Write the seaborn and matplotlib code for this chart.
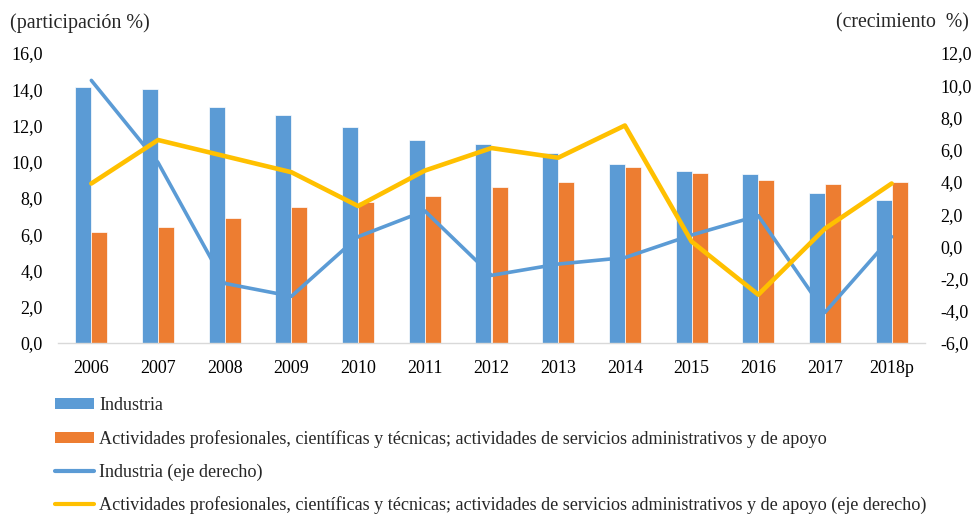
import matplotlib
matplotlib.use("Agg")
import matplotlib.pyplot as plt
import seaborn as sns
import numpy as np
import pandas as pd
from matplotlib.patches import Patch
from matplotlib.lines import Line2D
from matplotlib.ticker import FuncFormatter, MultipleLocator

years = ["2006", "2007", "2008", "2009", "2010", "2011", "2012",
         "2013", "2014", "2015", "2016", "2017", "2018p"]
industria_part = [14.1, 14.0, 13.0, 12.6, 11.9, 11.2, 11.0, 10.5, 9.9, 9.5, 9.3, 8.3, 7.9]
actividades_part = [6.1, 6.4, 6.9, 7.5, 7.8, 8.1, 8.6, 8.9, 9.7, 9.4, 9.0, 8.8, 8.9]
industria_crec = [10.3, 5.2, -2.3, -3.1, 0.6, 2.2, -1.8, -1.1, -0.7, 0.7, 1.9, -4.1, 0.6]
actividades_crec = [3.9, 6.6, 5.6, 4.6, 2.5, 4.7, 6.1, 5.5, 7.5, 0.3, -3.0, 1.1, 3.9]

lab_ind = "Industria"
lab_act = ("Actividades profesionales, científicas y técnicas; actividades de "
           "servicios administrativos y de apoyo")
lab_ind_r = "Industria (eje derecho)"
lab_act_r = lab_act + " (eje derecho)"

c_blue = "#5B9BD5"
c_orange = "#ED7D31"
c_yellow = "#FFC000"

sns.set_theme(style="white")
plt.rcParams["font.family"] = ["Liberation Serif", "DejaVu Serif"]

bars = pd.DataFrame({
    "year": years * 2,
    "value": industria_part + actividades_part,
    "serie": [lab_ind] * len(years) + [lab_act] * len(years),
})
pos = np.arange(len(years))
lines = pd.DataFrame({
    "pos": np.concatenate([pos, pos]),
    "value": industria_crec + actividades_crec,
    "serie": [lab_ind_r] * len(years) + [lab_act_r] * len(years),
})

fig = plt.figure(figsize=(9.76, 5.15), dpi=100)
ax = fig.add_axes([58 / 976, 1 - 343 / 515, (925 - 58) / 976, (343 - 53) / 515])

sns.barplot(data=bars, x="year", y="value", hue="serie", order=years,
            palette={lab_ind: c_blue, lab_act: c_orange}, width=0.48, gap=0,
            dodge=True, ax=ax, legend=False, edgecolor="white", linewidth=0.5,
            saturation=1)
ax.set_xlim(-0.5, len(years) - 0.5)
ax.set_ylim(0, 16)
ax.yaxis.set_major_locator(MultipleLocator(2))
fmt = FuncFormatter(lambda v, p: f"{v:.1f}".replace(".", ","))
ax.yaxis.set_major_formatter(fmt)
ax.set_xlabel("")
ax.set_ylabel("")
for s in ["top", "right", "left"]:
    ax.spines[s].set_visible(False)
ax.spines["bottom"].set_color("#D9D9D9")
ax.spines["bottom"].set_linewidth(1)
ax.tick_params(axis="both", length=0, labelsize=13, colors="black")
ax.tick_params(axis="y", pad=11)
ax.tick_params(axis="x", pad=12)

ax2 = ax.twinx()
sns.lineplot(data=lines, x="pos", y="value", hue="serie",
             palette={lab_ind_r: c_blue, lab_act_r: c_yellow},
             ax=ax2, legend=False, linewidth=3)
for ln, lw in zip(ax2.get_lines(), [2.6, 3.3]):
    ln.set_linewidth(lw)
ax2.set_ylim(-6, 12)
ax2.yaxis.set_major_locator(MultipleLocator(2))
ax2.yaxis.set_major_formatter(fmt)
ax2.set_xlim(-0.5, len(years) - 0.5)
ax2.set_xlabel("")
ax2.set_ylabel("")
for s in ["top", "right", "left", "bottom"]:
    ax2.spines[s].set_visible(False)
ax2.tick_params(axis="y", length=0, labelsize=13, colors="black", pad=11)
ax2.grid(False)
ax.grid(False)

fig.text(10 / 976, 1 - 23 / 515, "(participación %)", fontsize=14.5,
         ha="left", va="center")
fig.text(969 / 976, 1 - 23 / 515, "(crecimiento  %)", fontsize=14.2,
         ha="right", va="center")

handles = [
    Patch(facecolor=c_blue, edgecolor="none"),
    Patch(facecolor=c_orange, edgecolor="none"),
    Line2D([0], [0], color=c_blue, linewidth=3, solid_capstyle="round"),
    Line2D([0], [0], color=c_yellow, linewidth=3, solid_capstyle="round"),
]
fig.legend(handles, [lab_ind, lab_act, lab_ind_r, lab_act_r],
           loc="upper left", bbox_to_anchor=(55 / 976, 1 - 397 / 515),
           frameon=False, fontsize=13.05, handlelength=2.17, handleheight=0.55,
           handletextpad=0.27, labelspacing=0.87, borderpad=0, borderaxespad=0)

fig.savefig("out.png", dpi=100)
